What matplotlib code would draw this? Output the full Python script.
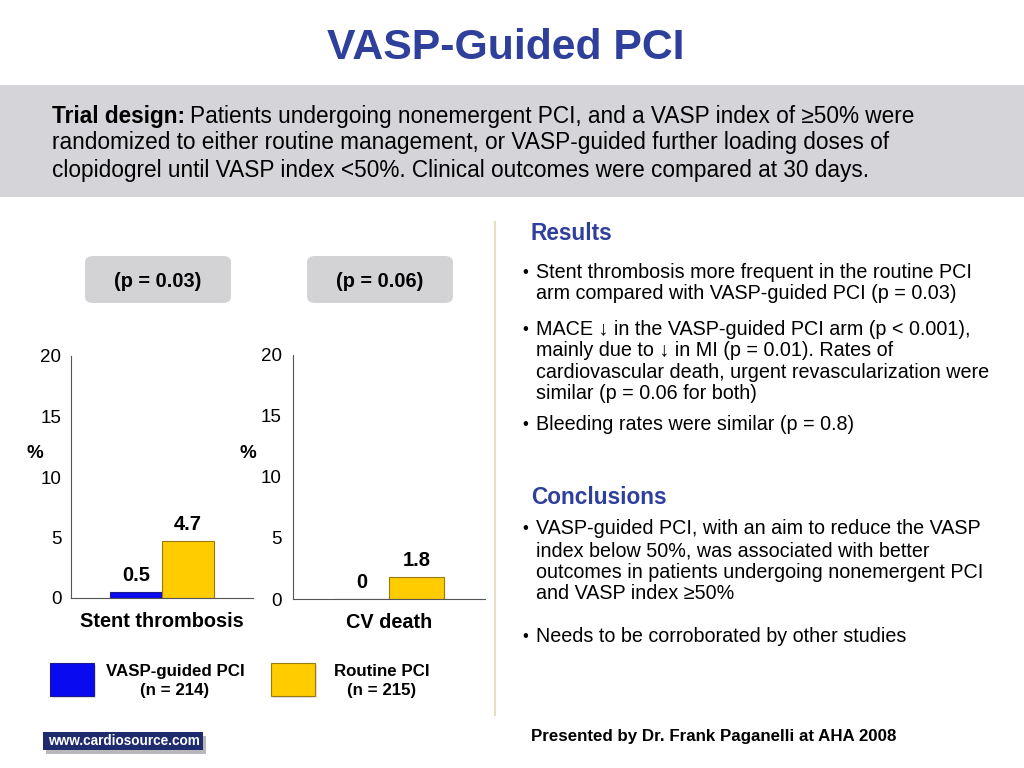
import matplotlib
matplotlib.use("Agg")
import matplotlib.pyplot as plt
from matplotlib.patches import Rectangle, FancyBboxPatch
import numpy as np

plt.rcParams['font.family'] = ['Liberation Sans', 'DejaVu Sans']

# data
groups = ["VASP-guided PCI\n(n = 214)", "Routine PCI\n(n = 215)"]
bar_colors = ["#0a0af0", "#ffcc00"]
edge_colors = ["#1a1a8a", "#9a7a10"]
outcomes = ["Stent thrombosis", "CV death"]
vasp_vals = [0.5, 0.0]
routine_vals = [4.7, 1.8]
pvals = ["(p = 0.03)", "(p = 0.06)"]
yticks = [0, 5, 10, 15, 20]

W, H = 1024, 768
fig = plt.figure(figsize=(W / 100, H / 100), dpi=100)

def fx(x):
    return x / W

def fy(y):
    return 1 - y / H

def ftext(x, y, s, **kw):
    return fig.text(fx(x), fy(y), s, **kw)

TITLE_BLUE = "#2e3f9c"

# title
ftext(506, 48, "VASP-Guided PCI", ha="center", va="center", fontsize=30.8,
      fontweight="bold", color=TITLE_BLUE)

# grey band with trial design
fig.patches.append(Rectangle((0, fy(197)), 1, (197 - 85) / H, transform=fig.transFigure,
                             facecolor="#d5d5d9", edgecolor="none", zorder=0))
r = fig.canvas.get_renderer()
t = ftext(52, 116, "Trial design:", ha="left", va="center", fontsize=16.3, fontweight="bold")
bb = t.get_window_extent(renderer=r)
ftext(52 + bb.width + 5, 116, "Patients undergoing nonemergent PCI, and a VASP index of \u226550% were",
      ha="left", va="center", fontsize=16.3)
ftext(52, 143, "randomized to either routine management, or VASP-guided further loading doses of",
      ha="left", va="center", fontsize=16.3)
ftext(52, 170, "clopidogrel until VASP index <50%. Clinical outcomes were compared at 30 days.",
      ha="left", va="center", fontsize=16.3)

# separator
fig.add_artist(plt.Line2D([fx(495), fx(495)], [fy(222), fy(715)], transform=fig.transFigure,
                          color="#e8ddc9", lw=1.5))

# bar charts
axes_pos = [(71, 598, 182, 242), (293, 599, 192, 244)]
pbox_x = [85, 307]
pct_x = [35, 248]
for i, (x0, yb, w, h) in enumerate(axes_pos):
    ax = fig.add_axes([fx(x0), fy(yb), w / W, h / H])
    ax.bar(-0.5, vasp_vals[i], width=1.0, color=bar_colors[0], edgecolor=edge_colors[0], lw=0.8)
    ax.bar(0.5, routine_vals[i], width=1.0, color=bar_colors[1], edgecolor=edge_colors[1], lw=0.8)
    for xb, v in [(-0.5, vasp_vals[i]), (0.5, routine_vals[i])]:
        ax.annotate(f"{v:g}", (xb, v), xytext=(0, 5), textcoords="offset points",
                    ha="center", va="bottom", fontsize=14.5, fontweight="bold")
    ax.set_xlim(-1.75, 1.75)
    ax.set_ylim(0, 20)
    ax.set_yticks(yticks)
    ax.set_yticklabels([str(v) for v in yticks], fontsize=13.5)
    ax.tick_params(axis="y", length=0, pad=7 if i == 0 else 8)
    ax.set_xticks([0])
    ax.set_xticklabels([outcomes[i]], fontsize=14.3, fontweight="bold")
    ax.tick_params(axis="x", length=0, pad=10)
    for s in ["top", "right"]:
        ax.spines[s].set_visible(False)
    for s in ["left", "bottom"]:
        ax.spines[s].set_color("#555555")
        ax.spines[s].set_linewidth(0.8)
    ax.patch.set_alpha(0)
    ftext(pct_x[i], 453, "%", ha="center", va="center", fontsize=13.5, fontweight="bold")
    # p-value box
    bx = pbox_x[i]
    fig.patches.append(FancyBboxPatch((fx(bx), fy(303)), 146 / W, 47 / H,
                                      boxstyle="round,pad=0,rounding_size=0.008",
                                      transform=fig.transFigure, facecolor="#d3d3d6",
                                      edgecolor="none"))
    ftext(bx + 73, 281, pvals[i], ha="center", va="center", fontsize=14.3, fontweight="bold")

# legend
leg_x = [50, 271]
leg_tx = [175, 382]
for i in range(2):
    fig.patches.append(Rectangle((fx(leg_x[i] + 2), fy(698)), 44 / W, 33 / H,
                                 transform=fig.transFigure, facecolor="#e4e4e8", edgecolor="none"))
    fig.patches.append(Rectangle((fx(leg_x[i]), fy(696)), 44 / W, 33 / H,
                                 transform=fig.transFigure, facecolor=bar_colors[i],
                                 edgecolor=edge_colors[i], lw=0.8))
    ftext(leg_tx[i], 681, groups[i], ha="center", va="center", fontsize=12.2,
          fontweight="bold", linespacing=1.3)

# logo
fig.patches.append(Rectangle((fx(46), fy(754)), 160 / W, 18 / H, transform=fig.transFigure,
                             facecolor="#b8b8bc", edgecolor="none"))
fig.patches.append(Rectangle((fx(43), fy(750)), 160 / W, 18 / H, transform=fig.transFigure,
                             facecolor="#1f2b6e", edgecolor="none"))
ftext(48, 741, "www.cardiosource.com", ha="left", va="center", fontsize=9.8,
      fontweight="bold", color="white")

# results / conclusions
ftext(531, 233, "Results", ha="left", va="center", fontsize=16.3, fontweight="bold", color=TITLE_BLUE)
ftext(531, 497, "Conclusions", ha="left", va="center", fontsize=16.3, fontweight="bold", color=TITLE_BLUE)

bullets = [
    (272, ["Stent thrombosis more frequent in the routine PCI",
           "arm compared with VASP-guided PCI (p = 0.03)"]),
    (329, ["MACE \u2193 in the VASP-guided PCI arm (p < 0.001),",
           "mainly due to \u2193 in MI (p = 0.01). Rates of",
           "cardiovascular death, urgent revascularization were",
           "similar (p = 0.06 for both)"]),
    (425, ["Bleeding rates were similar (p = 0.8)"]),
    (529, ["VASP-guided PCI, with an aim to reduce the VASP",
           "index below 50%, was associated with better",
           "outcomes in patients undergoing nonemergent PCI",
           "and VASP index \u226550%"]),
    (637, ["Needs to be corroborated by other studies"]),
]
for y0, lines in bullets:
    ftext(522, y0, "\u2022", ha="left", va="center", fontsize=12)
    for k, line in enumerate(lines):
        ftext(536, y0 + k * 21.6, line, ha="left", va="center", fontsize=14.2)

ftext(531, 736, "Presented by Dr. Frank Paganelli at AHA 2008", ha="left", va="center",
      fontsize=12.2, fontweight="bold")

fig.savefig("out.png", dpi=100)
